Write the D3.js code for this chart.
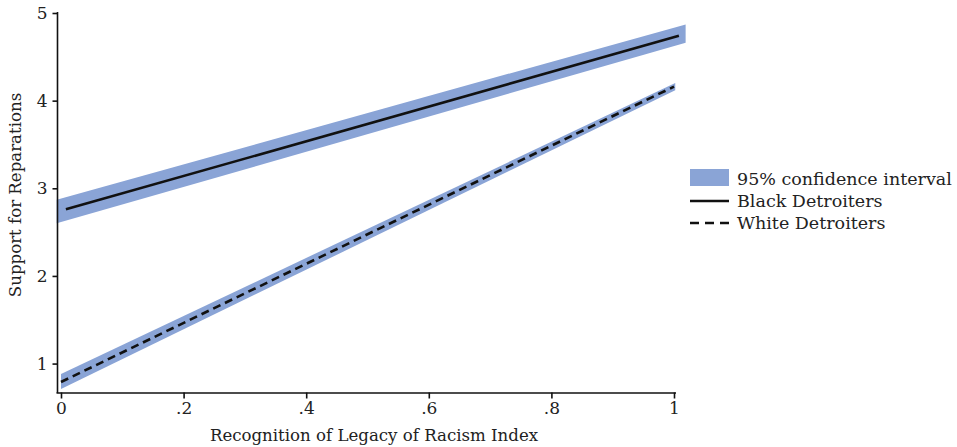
<!DOCTYPE html>
<html>
<head>
<meta charset="utf-8">
<script src="https://cdn.jsdelivr.net/npm/d3@7"></script>
<style>
  body { margin: 0; background: #fff; }
  #chart text { font-family: "DejaVu Serif", serif; fill: #222; }
</style>
</head>
<body>
<div id="chart"></div>
<script>
//Colores fijos
const COLOR_BAND = '#8aa4d6',
  COLOR_LINE = '#111';

//Datos
const xTicks = [0, 0.2, 0.4, 0.6, 0.8, 1];
const xTickLabels = ['0', '.2', '.4', '.6', '.8', '1'];
const yTicks = [1, 2, 3, 4, 5];

// recta de predicción: [x, y]
const blackLine = [[0.008, 2.76], [1.008, 4.74]];
const whiteLine = [[0, 0.79], [1, 4.16]];
// intervalo de confianza: [x, inferior, superior]
const blackBand = [[-0.007, 2.60, 2.87], [1.019, 4.66, 4.87]];
const whiteBand = [[0, 0.71, 0.88], [1.002, 4.12, 4.20]];

const legendItems = ['95% confidence interval', 'Black Detroiters', 'White Detroiters'];

let margin = {top: 13, left: 57},
  width = 957, height = 447;

let svg = d3.select('#chart')
  .append('svg')
    .attr('width', width)
    .attr('height', height);

let x = d3.scaleLinear()
  .domain([0, 1])
  .range([61, 674]);

let y = d3.scaleLinear()
  .domain([0.67, 5])
  .range([392.5, 13]);

// bandas
let area = d3.area()
  .x(d => x(d[0]))
  .y0(d => y(d[1]))
  .y1(d => y(d[2]));

[blackBand, whiteBand].forEach(b => {
  svg.append('path')
    .datum(b)
    .attr('fill', COLOR_BAND)
    .attr('d', area);
});

let line = d3.line()
  .x(d => x(d[0]))
  .y(d => y(d[1]));

svg.append('path')
  .datum(blackLine)
  .attr('fill', 'none')
  .attr('stroke', COLOR_LINE)
  .attr('stroke-width', 2.6)
  .attr('d', line);

svg.append('path')
  .datum(whiteLine)
  .attr('fill', 'none')
  .attr('stroke', COLOR_LINE)
  .attr('stroke-width', 2.6)
  .attr('stroke-dasharray', '8 5')
  .attr('d', line);

// ejes
let xAxis = d3.axisBottom(x)
  .tickValues(xTicks)
  .tickFormat((d, i) => xTickLabels[i])
  .tickSizeOuter(0)
  .tickSize(6)
  .tickPadding(3);

let gx = svg.append('g')
  .attr('transform', 'translate(0,392.5)')
  .call(xAxis);

gx.select('.domain').attr('d', 'M' + (margin.left - 0.5) + ',0.5H676');

let yAxis = d3.axisLeft(y)
  .tickValues(yTicks)
  .tickFormat(d3.format('d'))
  .tickSizeOuter(0)
  .tickSize(5)
  .tickPadding(5);

let gy = svg.append('g')
  .attr('transform', 'translate(' + (margin.left + 0.5) + ',0)')
  .call(yAxis);

gy.select('.domain').attr('d', 'M0,12V393');

svg.selectAll('.domain, .tick line')
  .attr('stroke', '#111')
  .attr('stroke-width', 1.6);

svg.selectAll('.tick text')
  .attr('font-size', 17)
  .attr('fill', '#222');

// títulos
svg.append('text')
  .attr('x', 374)
  .attr('y', 441)
  .attr('text-anchor', 'middle')
  .attr('font-size', 16.6)
  .text('Recognition of Legacy of Racism Index');

svg.append('text')
  .attr('transform', 'translate(21,195) rotate(-90)')
  .attr('text-anchor', 'middle')
  .attr('font-size', 16.6)
  .text('Support for Reparations');

// leyenda
let legend = svg.append('g').attr('transform', 'translate(690,0)');

legend.append('rect')
  .attr('x', 0).attr('y', 169)
  .attr('width', 39).attr('height', 17)
  .attr('fill', COLOR_BAND);

legend.append('line')
  .attr('x1', 0).attr('x2', 39)
  .attr('y1', 201).attr('y2', 201)
  .attr('stroke', COLOR_LINE).attr('stroke-width', 2.6);

legend.append('line')
  .attr('x1', 0).attr('x2', 39)
  .attr('y1', 223).attr('y2', 223)
  .attr('stroke', COLOR_LINE).attr('stroke-width', 2.6)
  .attr('stroke-dasharray', '9 6');

legend.selectAll('text.lab')
  .data(legendItems)
  .enter()
  .append('text')
    .attr('class', 'lab')
    .attr('x', 47)
    .attr('y', (d, i) => 185 + i * 22)
    .attr('font-size', 17.5)
    .text(d => d);
</script>
</body>
</html>
